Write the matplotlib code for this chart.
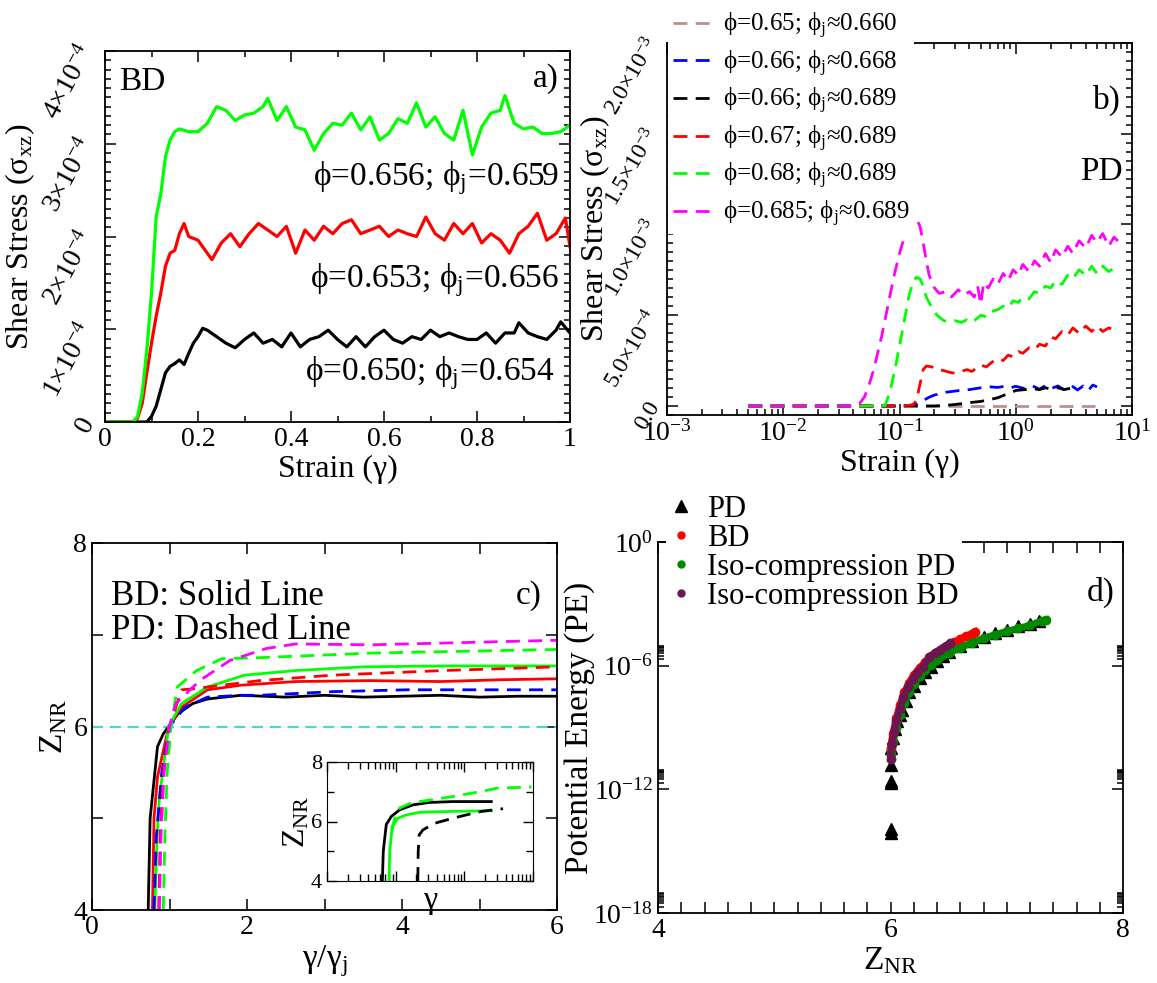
import numpy as np
import matplotlib
matplotlib.use("Agg")
import matplotlib.pyplot as plt
from matplotlib.lines import Line2D
from matplotlib.ticker import MultipleLocator, LogLocator, NullFormatter, FixedLocator

plt.rcParams['font.family'] = ['Liberation Serif', 'DejaVu Serif']
plt.rcParams['mathtext.fontset'] = 'custom'
plt.rcParams['mathtext.rm'] = 'Liberation Serif'
plt.rcParams['mathtext.it'] = 'Liberation Serif:italic'
plt.rcParams['mathtext.bf'] = 'Liberation Serif:bold'

# ---- panel a (BD), stress in units of 1e-4 ----
a_x_black = [0, 0.04, 0.08, 0.09, 0.10, 0.11, 0.12, 0.13, 0.14, 0.15, 0.16, 0.17, 0.18, 0.19, 0.20,
             0.21, 0.22, 0.24, 0.26, 0.28, 0.30, 0.32, 0.34, 0.36, 0.38, 0.40, 0.42, 0.44, 0.46,
             0.48, 0.50, 0.52, 0.54, 0.56, 0.58, 0.60, 0.62, 0.64, 0.66, 0.68, 0.70, 0.72, 0.74,
             0.76, 0.78, 0.80, 0.82, 0.84, 0.86, 0.88, 0.89, 0.91, 0.93, 0.95, 0.97, 0.98, 1.00]
a_y_black = [0, 0, 0, 0.0, 0.06, 0.17, 0.35, 0.53, 0.60, 0.63, 0.67, 0.62, 0.74, 0.85, 0.92,
             1.01, 0.99, 0.92, 0.85, 0.80, 0.89, 0.96, 0.85, 0.89, 0.81, 0.96, 0.81, 0.89, 0.92,
             0.99, 0.89, 0.81, 0.92, 0.81, 0.92, 0.99, 0.89, 0.85, 0.92, 0.89, 0.99, 0.92, 0.96,
             0.92, 0.89, 0.89, 0.96, 0.85, 0.96, 0.96, 1.07, 0.96, 0.92, 0.89, 0.99, 1.08, 0.96]
a_x_red = [0, 0.04, 0.06, 0.07, 0.08, 0.09, 0.10, 0.11, 0.12, 0.13, 0.14, 0.15, 0.16, 0.17, 0.18,
           0.20, 0.22, 0.23, 0.25, 0.27, 0.29, 0.31, 0.33, 0.35, 0.37, 0.39, 0.41, 0.43, 0.45,
           0.47, 0.49, 0.51, 0.53, 0.55, 0.57, 0.59, 0.61, 0.63, 0.65, 0.67, 0.69, 0.71, 0.73,
           0.75, 0.77, 0.79, 0.81, 0.83, 0.85, 0.87, 0.89, 0.91, 0.93, 0.95, 0.97, 0.99, 1.00]
a_y_red = [0, 0, 0, 0.04, 0.20, 0.53, 0.85, 1.14, 1.39, 1.68, 1.82, 1.85, 2.03, 2.14, 2.00,
           1.96, 1.82, 1.75, 1.93, 2.03, 1.89, 2.03, 2.14, 2.07, 2.00, 2.11, 1.82, 2.07, 1.96,
           2.11, 2.03, 2.14, 2.18, 2.03, 2.07, 2.11, 2.00, 2.07, 2.03, 2.00, 2.21, 2.03, 1.96,
           2.14, 2.03, 2.14, 1.93, 2.03, 1.96, 1.82, 2.03, 2.11, 2.25, 1.96, 2.03, 2.20, 1.89]
a_x_green = [0, 0.04, 0.06, 0.07, 0.08, 0.09, 0.10, 0.11, 0.12, 0.13, 0.14, 0.15, 0.16, 0.18,
             0.20, 0.22, 0.24, 0.26, 0.28, 0.30, 0.32, 0.34, 0.35, 0.37, 0.39, 0.41, 0.43, 0.45,
             0.47, 0.49, 0.51, 0.53, 0.55, 0.57, 0.59, 0.61, 0.63, 0.65, 0.67, 0.69, 0.71, 0.73,
             0.75, 0.77, 0.79, 0.81, 0.83, 0.85, 0.86, 0.88, 0.90, 0.92, 0.94, 0.96, 0.98, 1.00]
a_y_green = [0, 0, 0, 0.06, 0.31, 0.78, 1.39, 2.21, 2.46, 2.86, 3.04, 3.13, 3.16, 3.13,
             3.13, 3.22, 3.40, 3.36, 3.25, 3.31, 3.33, 3.40, 3.49, 3.25, 3.40, 3.18, 3.15, 2.93,
             3.11, 3.22, 3.20, 3.33, 3.15, 3.29, 3.04, 3.11, 3.27, 3.22, 3.44, 3.18, 3.29, 3.11,
             3.04, 3.36, 2.88, 3.18, 3.33, 3.36, 3.52, 3.22, 3.16, 3.18, 3.11, 3.11, 3.13, 3.20]
a_labels = ['ϕ=0.656; ϕ$_\\mathrm{j}$=0.659', 'ϕ=0.653; ϕ$_\\mathrm{j}$=0.656',
            'ϕ=0.650; ϕ$_\\mathrm{j}$=0.654']
a_ytick_labels = ['0', r'1×10$^{-4}$', r'2×10$^{-4}$', r'3×10$^{-4}$', r'4×10$^{-4}$']

# ---- panel b (PD), stress in units of 1e-3 ----
b_labels = ['ϕ=0.65; ϕ$_\\mathrm{j}$≈0.660', 'ϕ=0.66; ϕ$_\\mathrm{j}$≈0.668',
            'ϕ=0.66; ϕ$_\\mathrm{j}$≈0.689', 'ϕ=0.67; ϕ$_\\mathrm{j}$≈0.689',
            'ϕ=0.68; ϕ$_\\mathrm{j}$≈0.689', 'ϕ=0.685; ϕ$_\\mathrm{j}$≈0.689']
b_colors = ['#bc8f8f', '#0000ff', '#000000', '#ff0000', '#00ff00', '#ff00ff']
b_x_brown = [0.005, 0.1, 1.0, 4.8]
b_y_brown = [0, 0, 0, 0]
b_x_blue = [0.005, 0.05, 0.1, 0.12, 0.14, 0.16, 0.18, 0.2, 0.25, 0.3, 0.4, 0.5, 0.6, 0.7, 0.8,
            0.9, 1.0, 1.2, 1.4, 1.6, 1.8, 2.0, 2.3, 2.6, 3.0, 3.4, 3.8, 4.2, 4.6, 5.0]
b_y_blue = [0, 0, 0, 0.002, 0.01, 0.03, 0.048, 0.06, 0.075, 0.082, 0.09, 0.1, 0.105, 0.102, 0.108,
            0.1, 0.108, 0.095, 0.11, 0.092, 0.112, 0.095, 0.11, 0.09, 0.113, 0.088, 0.11, 0.085, 0.115, 0.105]
b_x_black = [0.005, 0.1, 0.2, 0.25, 0.3, 0.35, 0.4, 0.5, 0.6, 0.7, 0.8, 0.9, 1.0, 1.2, 1.4,
             1.6, 1.8, 2.0, 2.3, 2.6, 3.0]
b_y_black = [0, 0, 0, 0.003, 0.008, 0.013, 0.018, 0.025, 0.035, 0.045, 0.06, 0.072, 0.085, 0.09, 0.095,
             0.09, 0.1, 0.092, 0.1, 0.09, 0.098]
b_x_red = [0.005, 0.05, 0.1, 0.13, 0.14, 0.15, 0.16, 0.17, 0.19, 0.21, 0.24, 0.27, 0.3, 0.34, 0.38,
           0.42, 0.46, 0.5, 0.56, 0.62, 0.7, 0.78, 0.86, 0.95, 1.05, 1.15, 1.3, 1.45, 1.6, 1.8,
           2.0, 2.2, 2.5, 2.8, 3.1, 3.5, 4.0, 4.5, 5.0, 5.6, 6.3, 7.0]
b_y_red = [0, 0, 0, 0.005, 0.03, 0.12, 0.2, 0.22, 0.215, 0.2, 0.195, 0.185, 0.18, 0.19, 0.2,
           0.19, 0.21, 0.225, 0.215, 0.24, 0.26, 0.25, 0.28, 0.27, 0.3, 0.29, 0.32, 0.31, 0.34, 0.33,
           0.38, 0.37, 0.41, 0.39, 0.43, 0.4, 0.44, 0.41, 0.44, 0.41, 0.43, 0.42]
b_x_green = [0.005, 0.05, 0.075, 0.08, 0.085, 0.09, 0.1, 0.11, 0.12, 0.13, 0.14, 0.15, 0.16, 0.17,
             0.19, 0.21, 0.24, 0.27, 0.3, 0.34, 0.38, 0.42, 0.46, 0.5, 0.56, 0.62, 0.7, 0.78, 0.86,
             0.95, 1.05, 1.15, 1.3, 1.45, 1.6, 1.8, 2.0, 2.2, 2.5, 2.8, 3.1, 3.5, 4.0, 4.5, 5.0,
             5.6, 6.3, 7.0]
b_y_green = [0, 0, 0.002, 0.05, 0.11, 0.18, 0.33, 0.47, 0.6, 0.68, 0.71, 0.7, 0.66, 0.6,
             0.54, 0.5, 0.47, 0.465, 0.47, 0.46, 0.475, 0.46, 0.48, 0.5, 0.49, 0.52, 0.53, 0.55, 0.54,
             0.58, 0.57, 0.6, 0.59, 0.63, 0.62, 0.66, 0.65, 0.69, 0.67, 0.72, 0.7, 0.75, 0.72, 0.77, 0.73,
             0.77, 0.74, 0.76]
b_x_mag = [0.005, 0.04, 0.045, 0.05, 0.055, 0.06, 0.07, 0.08, 0.09, 0.1, 0.11, 0.12, 0.13, 0.14,
           0.15, 0.16, 0.17, 0.18, 0.2, 0.22, 0.25, 0.28, 0.32, 0.36, 0.4, 0.44, 0.47, 0.5, 0.53,
           0.58, 0.64, 0.7, 0.78, 0.86, 0.95, 1.05, 1.15, 1.3, 1.45, 1.6, 1.8, 2.0, 2.2, 2.5, 2.8,
           3.1, 3.5, 4.0, 4.5, 5.0, 5.6, 6.3, 7.0, 7.8]
b_y_mag = [0, 0, 0.01, 0.05, 0.12, 0.2, 0.38, 0.56, 0.72, 0.84, 0.93, 0.99, 1.02, 1.03,
           0.99, 0.9, 0.8, 0.72, 0.65, 0.62, 0.63, 0.6, 0.64, 0.61, 0.63, 0.6, 0.66, 0.56, 0.68,
           0.65, 0.7, 0.67, 0.73, 0.69, 0.75, 0.72, 0.78, 0.74, 0.8, 0.77, 0.84, 0.79, 0.86, 0.82, 0.88,
           0.84, 0.91, 0.87, 0.94, 0.9, 0.95, 0.88, 0.93, 0.9]
b_ytick_labels = ['0.0', r'5.0×10$^{-4}$', r'1.0×10$^{-3}$', r'1.5×10$^{-3}$', r'2.0×10$^{-3}$']

# ---- panel c, Z_NR vs gamma/gamma_j ----
c_x_bd_black = [0.725, 0.75, 0.845, 0.92, 0.99, 1.11, 1.3, 1.49, 1.92, 2.5, 3.0, 3.5, 4.0, 4.5, 5.0, 5.5, 6.0]
c_y_bd_black = [4.0, 5.0, 5.78, 5.92, 6.0, 6.14, 6.25, 6.30, 6.34, 6.32, 6.34, 6.32, 6.33, 6.34, 6.32, 6.33, 6.33]
c_x_bd_red = [0.78, 0.80, 0.845, 0.99, 1.155, 1.49, 1.92, 2.63, 3.59, 4.5, 5.3, 6.0]
c_y_bd_red = [4.0, 5.0, 5.45, 6.0, 6.21, 6.40, 6.45, 6.49, 6.50, 6.49, 6.51, 6.52]
c_x_bd_green = [0.81, 0.84, 0.87, 0.99, 1.155, 1.49, 1.97, 2.63, 3.5, 4.5, 6.0]
c_y_bd_green = [4.0, 4.8, 5.23, 6.0, 6.25, 6.43, 6.56, 6.61, 6.65, 6.66, 6.66]
c_x_pd_blue = [0.80, 0.83, 0.9, 1.0, 1.2, 1.49, 1.92, 2.16, 3.11, 4.07, 6.0]
c_y_pd_blue = [4.0, 4.8, 5.5, 6.0, 6.21, 6.32, 6.34, 6.34, 6.38, 6.40, 6.40]
c_x_pd_red = [0.86, 0.88, 0.92, 1.0, 1.155, 1.3, 2.16, 3.11, 4.54, 6.0]
c_y_pd_red = [4.0, 4.8, 5.5, 6.0, 6.40, 6.41, 6.50, 6.56, 6.61, 6.65]
c_x_pd_green = [0.92, 0.94, 0.97, 1.02, 1.1, 1.35, 1.68, 2.16, 3.59, 6.0]
c_y_pd_green = [4.0, 4.8, 5.5, 6.0, 6.43, 6.61, 6.74, 6.75, 6.80, 6.84]
c_x_pd_mag = [0.87, 0.89, 0.93, 1.0, 1.08, 1.39, 1.78, 2.25, 2.63, 3.59, 6.0]
c_y_pd_mag = [4.0, 4.8, 5.5, 6.0, 6.25, 6.50, 6.72, 6.85, 6.90, 6.89, 6.94]
c_zc = 6.0

# inset: Z_NR vs raw strain
in_x_bd_black = [0.064, 0.066, 0.073, 0.0865, 0.114, 0.179, 0.31, 0.68, 1.2, 2.47]
in_y_bd_black = [4.0, 5.0, 5.9, 6.17, 6.39, 6.56, 6.64, 6.67, 6.67, 6.67]
in_x_bd_green = [0.08, 0.082, 0.089, 0.108, 0.143, 0.224, 0.68, 2.47]
in_y_bd_green = [4.0, 5.0, 5.83, 6.11, 6.22, 6.31, 6.34, 6.36]
in_x_pd_green = [0.089, 0.095, 0.114, 0.16, 0.224, 0.4, 0.68, 1.77, 3.0, 9.5]
in_y_pd_green = [5.7, 6.05, 6.45, 6.6, 6.67, 6.76, 6.84, 7.01, 7.12, 7.16]
in_x_pd_black = [0.21, 0.213, 0.22, 0.25, 0.37, 0.68, 1.2, 1.77, 3.66]
in_y_pd_black = [4.0, 5.0, 5.55, 5.72, 5.94, 6.11, 6.25, 6.34, 6.43]

# ---- panel d, potential energy vs Z_NR ----
d_z_pd = [6.0, 6.0, 6.0, 6.0, 6.0, 6.0, 6.02, 6.04, 6.06, 6.08, 6.1, 6.13, 6.16, 6.2, 6.25, 6.3,
          6.35, 6.4, 6.45, 6.5, 6.6, 6.7, 6.8, 6.9, 7.0, 7.1, 7.2, 7.28]
d_pe_pd = [8e-15, 1.2e-14, 2e-12, 2.5e-12, 1.5e-11, 1e-10, 3e-10, 8e-10, 2e-9, 4e-9, 7e-9, 2e-8, 5e-8,
           1e-7, 2.5e-7, 5e-7, 9e-7, 1.6e-6, 2.8e-6, 4.5e-6, 9e-6, 1.6e-5, 2.6e-5, 4e-5, 5.6e-5,
           8e-5, 1.1e-4, 1.5e-4]
d_z_bd = [6.0, 6.02, 6.05, 6.08, 6.12, 6.16, 6.2, 6.25, 6.3, 6.35, 6.4, 6.45, 6.5, 6.55, 6.6, 6.65, 6.7, 6.73]
d_pe_bd = [1e-10, 5e-10, 3e-9, 1.2e-8, 5e-8, 1.5e-7, 3.5e-7, 8e-7, 1.5e-6, 2.8e-6, 4.5e-6, 7e-6, 1e-5,
           1.4e-5, 2e-5, 2.7e-5, 3.6e-5, 4.4e-5]
d_z_iso_pd = [6.0, 6.02, 6.05, 6.08, 6.12, 6.16, 6.2, 6.25, 6.3, 6.35, 6.4, 6.5, 6.6, 6.7, 6.8, 6.9,
              7.0, 7.1, 7.2, 7.3, 7.34]
d_pe_iso_pd = [5e-11, 2e-10, 1e-9, 4e-9, 1.5e-8, 5e-8, 1.3e-7, 3e-7, 6e-7, 1.1e-6, 1.8e-6, 4e-6, 7.5e-6,
               1.3e-5, 2.1e-5, 3.2e-5, 4.6e-5, 6.5e-5, 9e-5, 1.5e-4, 1.7e-4]
d_z_iso_bd = [6.0, 6.01, 6.03, 6.05, 6.08, 6.11, 6.15, 6.19, 6.23, 6.28, 6.33, 6.38, 6.43, 6.48, 6.51]
d_pe_iso_bd = [3e-11, 1.5e-10, 6e-10, 2e-9, 8e-9, 3e-8, 9e-8, 2.2e-7, 4.5e-7, 9e-7, 2.5e-6, 4e-6, 6e-6,
               9e-6, 1.2e-5]
d_labels = ['PD', 'BD', 'Iso-compression PD', 'Iso-compression BD']
d_colors = ['black', '#ff0000', '#008a00', '#6b1650']

W, H = 1157, 983
fig = plt.figure(figsize=(W / 100, H / 100), dpi=100)


def px_axes(l, t, r, b):
    return fig.add_axes([l / W, 1 - b / H, (r - l) / W, (b - t) / H])


def style(ax, size=17):
    ax.tick_params(which='both', direction='in', top=True, right=True, labelsize=size, width=1.1)
    ax.tick_params(which='major', length=8)
    ax.tick_params(which='minor', length=4)
    for s in ax.spines.values():
        s.set_linewidth(1.3)


# panel a
ax = px_axes(105, 51, 570, 422)
ax.plot(a_x_black, np.array(a_y_black) * 1e-4, color='black', lw=2.3)
ax.plot(a_x_red, np.array(a_y_red) * 1e-4, color='#ff0000', lw=2.3)
ax.plot(a_x_green, np.array(a_y_green) * 1e-4, color='#00ff00', lw=2.3)
ax.set_xlim(0, 1)
ax.set_ylim(0, 4e-4)
ax.set_xticks([0, 0.2, 0.4, 0.6, 0.8, 1.0], ['0', '0.2', '0.4', '0.6', '0.8', '1'])
ax.xaxis.set_minor_locator(MultipleLocator(0.1))
ax.set_yticks([0, 1e-4, 2e-4, 3e-4, 4e-4], a_ytick_labels, rotation=62)
ax.yaxis.set_minor_locator(MultipleLocator(1e-5))
style(ax, 20)
ax.set_xlabel('Strain (γ)', fontsize=23, labelpad=2)
ax.set_ylabel(r'Shear Stress (σ$_{\mathrm{xz}}$)', fontsize=23)
ax.yaxis.set_label_coords(-0.146, 0.5)
ax.text(0.976, 2.63e-4, a_labels[0], ha='right', va='center', fontsize=24)
ax.text(0.976, 1.53e-4, a_labels[1], ha='right', va='center', fontsize=24)
ax.text(0.966, 0.53e-4, a_labels[2], ha='right', va='center', fontsize=24)
ax.text(0.081, 0.917, 'BD', transform=ax.transAxes, ha='center', va='center', fontsize=24)
ax.text(0.948, 0.926, 'a)', transform=ax.transAxes, ha='center', va='center', fontsize=24)

# panel b
ax = px_axes(667, 43, 1132, 415)
b_series = [(b_x_brown, b_y_brown), (b_x_blue, b_y_blue), (b_x_black, b_y_black),
            (b_x_red, b_y_red), (b_x_green, b_y_green), (b_x_mag, b_y_mag)]
handles = []
for (xs, ys), col, lab in zip(b_series, b_colors, b_labels):
    h, = ax.plot(xs, np.array(ys) * 1e-3, color=col, lw=2, ls=(0, (5, 3)), label=lab)
    handles.append(h)
ax.set_xscale('log')
ax.set_xlim(1e-3, 1e1)
ax.set_ylim(-5e-5, 2e-3)
ax.set_xticks([1e-3, 1e-2, 1e-1, 1e0, 1e1],
              [r'$\mathrm{10^{-3}}$', r'$\mathrm{10^{-2}}$', r'$\mathrm{10^{-1}}$', r'$\mathrm{10^{0}}$', r'$\mathrm{10^{1}}$'])
ax.xaxis.set_minor_locator(LogLocator(base=10, subs=np.arange(2, 10)))
ax.xaxis.set_minor_formatter(NullFormatter())
ax.set_yticks([0, 5e-4, 1e-3, 1.5e-3, 2e-3], b_ytick_labels, rotation=60)
ax.yaxis.set_minor_locator(MultipleLocator(5e-5))
style(ax, 20)
ax.tick_params(axis='y', labelsize=17, pad=2)
ax.set_xlabel('Strain (γ)', fontsize=23, labelpad=2)
ax.set_ylabel(r'Shear Stress (σ$_{\mathrm{xz}}$)', fontsize=23)
ax.yaxis.set_label_coords(-0.118, 0.5)
ax.text(0.945, 0.846, 'b)', transform=ax.transAxes, ha='center', va='center', fontsize=24)
ax.text(0.935, 0.653, 'PD', transform=ax.transAxes, ha='center', va='center', fontsize=24)
leg = ax.legend(handles=handles, loc='upper left', bbox_to_anchor=(668 / W, 1 - 6 / H),
                bbox_transform=fig.transFigure, fontsize=18, frameon=True, fancybox=False,
                edgecolor='none', facecolor='white', framealpha=1, handlelength=1.5,
                handletextpad=0.5, labelspacing=0.3, borderpad=0.2, borderaxespad=0)

# panel c
ax = px_axes(92, 543, 557, 910)
ax.axhline(c_zc, color='#48d8d0', lw=1.6, ls=(0, (5, 3)))
ax.plot(c_x_bd_black, c_y_bd_black, color='black', lw=2)
ax.plot(c_x_bd_red, c_y_bd_red, color='#ff0000', lw=2)
ax.plot(c_x_bd_green, c_y_bd_green, color='#00ff00', lw=2)
ax.plot(c_x_pd_blue, c_y_pd_blue, color='#0000ff', lw=2, ls=(0, (5, 3)))
ax.plot(c_x_pd_red, c_y_pd_red, color='#ff0000', lw=2, ls=(0, (5, 3)))
ax.plot(c_x_pd_green, c_y_pd_green, color='#00ff00', lw=2, ls=(0, (5, 3)))
ax.plot(c_x_pd_mag, c_y_pd_mag, color='#ff00ff', lw=2, ls=(0, (5, 3)))
ax.set_xlim(0, 6)
ax.set_ylim(4, 8)
ax.set_xticks([0, 2, 4, 6])
ax.set_yticks([4, 6, 8])
ax.xaxis.set_minor_locator(MultipleLocator(1))
ax.yaxis.set_minor_locator(MultipleLocator(1))
style(ax, 20)
ax.tick_params(which='minor', length=8)
ax.set_xlabel(r'γ/γ$_{\mathrm{j}}$', fontsize=24, labelpad=2)
ax.set_ylabel(r'Z$_{\mathrm{NR}}$', fontsize=24)
ax.yaxis.set_label_coords(-0.05, 0.5)
ax.text(0.04, 0.853, 'BD: Solid Line', transform=ax.transAxes, ha='left', va='center', fontsize=25)
ax.text(0.04, 0.762, 'PD: Dashed Line', transform=ax.transAxes, ha='left', va='center', fontsize=25)
ax.text(0.94, 0.857, 'c)', transform=ax.transAxes, ha='center', va='center', fontsize=24)

# inset
ai = px_axes(327, 762, 533, 881)
ai.plot(in_x_bd_black, in_y_bd_black, color='black', lw=2)
ai.plot(in_x_bd_green, in_y_bd_green, color='#00ff00', lw=2)
ai.plot(in_x_pd_green, in_y_pd_green, color='#00ff00', lw=2, ls=(0, (5, 3)))
ai.plot(in_x_pd_black, in_y_pd_black, color='black', lw=2, ls=(0, (5, 3)))
ai.set_xscale('log')
ai.set_xlim(1e-2, 1e1)
ai.set_ylim(4, 8)
ai.set_yticks([4, 6, 8])
ai.yaxis.set_minor_locator(MultipleLocator(1))
ai.xaxis.set_major_locator(LogLocator(base=10))
ai.xaxis.set_minor_locator(LogLocator(base=10, subs=np.arange(2, 10)))
ai.xaxis.set_major_formatter(NullFormatter())
ai.xaxis.set_minor_formatter(NullFormatter())
ai.tick_params(which='both', direction='in', top=True, right=True, labelsize=16, width=1)
ai.tick_params(which='major', length=7)
ai.tick_params(which='minor', length=5)
ai.set_xlabel('γ', fontsize=23, labelpad=0)
ai.set_ylabel(r'Z$_{\mathrm{NR}}$', fontsize=23, labelpad=0)

# panel d
ax = px_axes(658, 542, 1123, 913)
ax.plot(d_z_pd, d_pe_pd, ls='none', marker='^', ms=8, color=d_colors[0], label=d_labels[0])
ax.plot(d_z_bd, d_pe_bd, ls='-', lw=5, marker='o', ms=6, color=d_colors[1], label=d_labels[1])
ax.plot(d_z_iso_pd, d_pe_iso_pd, ls='-', lw=5, marker='o', ms=6, color=d_colors[2], label=d_labels[2])
ax.plot(d_z_iso_bd, d_pe_iso_bd, ls='-', lw=5, marker='o', ms=6, color=d_colors[3], label=d_labels[3])
ax.set_yscale('log')
ax.set_xlim(4, 8)
ax.set_ylim(1e-18, 1e0)
ax.set_xticks([4, 6, 8])
ax.xaxis.set_minor_locator(MultipleLocator(0.2))
ax.set_yticks([1e-18, 1e-12, 1e-6, 1e0],
              [r'$\mathrm{10^{-18}}$', r'$\mathrm{10^{-12}}$', r'$\mathrm{10^{-6}}$', r'$\mathrm{10^{0}}$'])
d_minor = [m * 10.0 ** k for k in (-18, -12, -6) for m in range(2, 10)]
ax.yaxis.set_minor_locator(FixedLocator(d_minor))
ax.yaxis.set_minor_formatter(NullFormatter())
style(ax, 20)
ax.tick_params(axis='x', which='minor', length=8)
ax.set_xlabel(r'Z$_{\mathrm{NR}}$', fontsize=24, labelpad=2)
ax.set_ylabel('Potential Energy (PE)', fontsize=24)
ax.yaxis.set_label_coords(-0.135, 0.5)
ax.text(0.952, 0.865, 'd)', transform=ax.transAxes, ha='center', va='center', fontsize=24)
d_handles = [Line2D([], [], ls='none', marker='^', ms=8, color=d_colors[0]),
             Line2D([], [], ls='none', marker='o', ms=5, color=d_colors[1]),
             Line2D([], [], ls='none', marker='o', ms=5, color=d_colors[2]),
             Line2D([], [], ls='none', marker='o', ms=5, color=d_colors[3])]
ax.legend(d_handles, d_labels, loc='upper left', bbox_to_anchor=(666 / W, 1 - 492 / H),
          bbox_transform=fig.transFigure, fontsize=22, frameon=True, fancybox=False,
          edgecolor='none', facecolor='white', framealpha=1, handlelength=0.8,
          handletextpad=0.45, labelspacing=0.0, borderpad=0.1, borderaxespad=0)

fig.savefig('out.png', dpi=100)
